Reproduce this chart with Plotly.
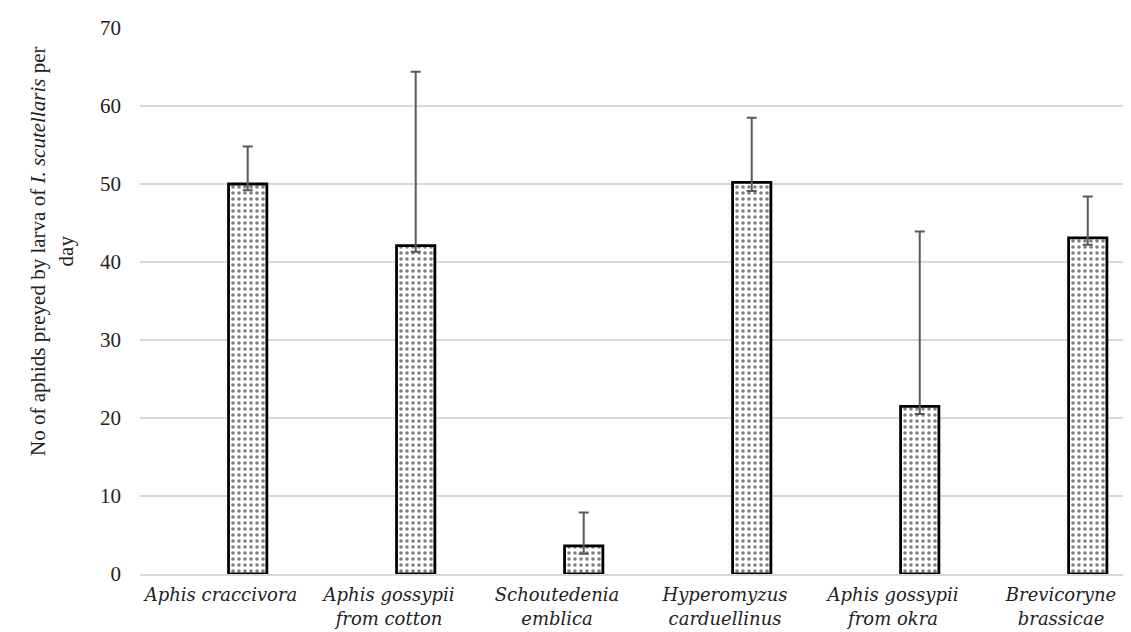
import plotly.graph_objects as go

categories = [
    "<i>Aphis craccivora</i>",
    "<i>Aphis gossypii</i><br><i>from cotton</i>",
    "<i>Schoutedenia</i><br><i>emblica</i>",
    "<i>Hyperomyzus</i><br><i>carduellinus</i>",
    "<i>Aphis gossypii</i><br><i>from okra</i>",
    "<i>Brevicoryne</i><br><i>brassicae</i>",
]
means = [50.0, 42.1, 3.6, 50.2, 21.5, 43.1]
err_plus = [4.8, 22.3, 4.3, 8.3, 22.4, 5.3]
err_minus = [0.8, 0.8, 1.0, 1.1, 1.0, 0.9]
y_ticks = [0, 10, 20, 30, 40, 50, 60, 70]

SERIF = "Liberation Serif"
LABEL_FONT = "DejaVu Serif"

fig = go.Figure()
fig.add_trace(go.Bar(
    x=list(range(len(categories))),
    y=means,
    width=0.228,
    offset=0.045,
    marker=dict(
        color="white",
        line=dict(color="black", width=2.8),
        pattern=dict(shape=".", fgcolor="black", bgcolor="white", size=6, solidity=0.28),
    ),
    error_y=dict(
        type="data", symmetric=False, array=err_plus, arrayminus=err_minus,
        color="#595959", thickness=2, width=5,
    ),
    showlegend=False,
))

fig.update_layout(
    width=1131, height=632,
    margin=dict(l=132, r=0, t=20, b=66),
    plot_bgcolor="white", paper_bgcolor="white",
    font=dict(family=SERIF, size=20, color="#222222"),
)
fig.update_xaxes(
    range=[-0.482, 5.464],
    tickmode="array", tickvals=list(range(len(categories))), ticktext=categories,
    showgrid=False, showline=True, linecolor="#d9d9d9", linewidth=1.5,
    ticks="", tickfont=dict(family=LABEL_FONT, size=18, color="#222222"),
    ticklabelstandoff=4, zeroline=False,
)
fig.update_yaxes(
    range=[0, 70], tickmode="array", tickvals=y_ticks,
    showgrid=True, gridcolor="#d9d9d9", gridwidth=1.5,
    zeroline=False, showline=False, ticks="",
    tickfont=dict(family=SERIF, size=21, color="#222222"),
    ticklabelstandoff=18,
)
fig.add_annotation(
    text="No of aphids preyed by larva of <i>I. scutellaris</i> per<br>day",
    textangle=-90, xref="paper", yref="paper",
    x=-0.088, y=0.59, xanchor="center", yanchor="middle",
    showarrow=False, font=dict(family=SERIF, size=21, color="#222222"),
)

fig.write_html("out.html")
